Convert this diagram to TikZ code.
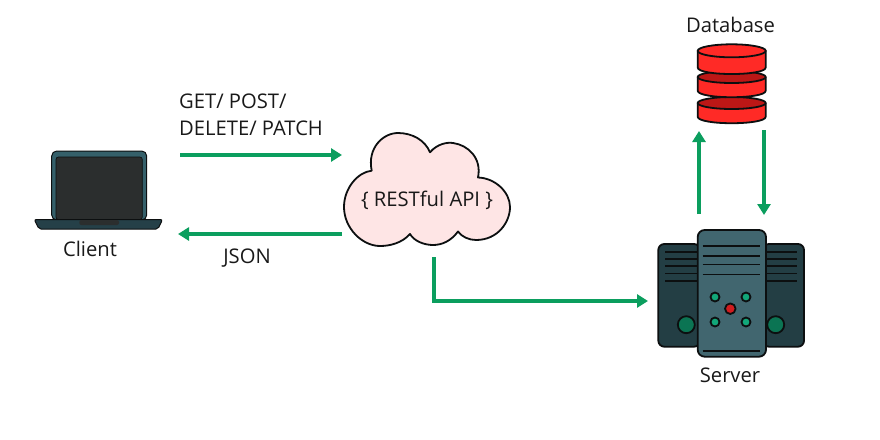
\documentclass[tikz,border=0pt]{standalone}
\usepackage{fontspec}
\setmainfont{Open Sans}
\usetikzlibrary{arrows.meta}
\definecolor{flow}{HTML}{0B9E5E}
\definecolor{ink}{HTML}{0C0F10}
\definecolor{lidteal}{HTML}{35606A}
\definecolor{basedark}{HTML}{254048}
\definecolor{screendark}{HTML}{2B2E2E}
\definecolor{towermid}{HTML}{41666F}
\definecolor{towerdark}{HTML}{233E44}
\definecolor{ledgreen}{HTML}{12A779}
\definecolor{knobgreen}{HTML}{0B7453}
\definecolor{ledred}{HTML}{D01C1F}
\definecolor{dbred}{HTML}{FF2A26}
\definecolor{dbdark}{HTML}{BC1716}
\definecolor{cloudfill}{HTML}{FEE5E5}
\tikzset{
  label text/.style={font=\fontsize{20.2}{24}\selectfont, text=black!90, inner sep=0pt},
  flowline/.style={line width=3.2pt, draw=flow, -{Triangle[length=11pt,width=13pt]}},
  outline/.style={draw=ink, line width=1.8pt, line join=round},
  groove/.style={draw=ink, line width=1.6pt},
}
\newcommand{\dblayer}[1]{%
  \filldraw[outline, fill=dbred] (697.7,#1) -- ++(0,13.7) .. controls +(0,8.7) and (765.7,#1+22.4) .. (765.7,#1+13.7) -- (765.7,#1) -- cycle;
  \filldraw[outline, fill=dbdark] (731.7,#1) ellipse [x radius=34, y radius=6];
}
\begin{document}
\begin{tikzpicture}[x=1pt,y=-1pt]
\useasboundingbox (0,0) rectangle (880,439);
\fill[white] (0,0) rectangle (880,439);

% Laptop
\filldraw[draw=ink, line width=1pt, fill=lidteal, rounded corners=5pt] (51.7,220) -- (51.7,151) -- (146.7,151) -- (146.7,220) -- cycle;
\filldraw[draw=ink, line width=0.7pt, fill=screendark, rounded corners=2.5pt] (56,219.5) -- (56,157) -- (142.3,157) -- (142.3,219.5) -- cycle;
\filldraw[draw=ink, line width=1pt, fill=basedark, rounded corners=2pt] (34.3,219.5) -- (162.5,219.5) -- (158,229) -- (39,229) -- cycle;
\filldraw[draw=none, fill=screendark, rounded corners=2pt] (79.3,220) -- (119,220) -- (119,225) -- (79.3,225) -- cycle;
\node[label text] (client) at (90,249) {Client};

% Cloud
\filldraw[outline, fill=cloudfill]
  (371.7,170.7)
  .. controls (367,148) and (383,133) .. (398,133)
  .. controls (412,133) and (425,140) .. (430,152.3)
  .. controls (437,144) and (447,142) .. (453,143)
  .. controls (468,145) and (482,158) .. (478,177.5)
  .. controls (495,178) and (510,192) .. (510,207)
  .. controls (510,222) and (498,240) .. (476,240)
  .. controls (469,240) and (462,237) .. (458,231.5)
  .. controls (451,241) and (442,245) .. (433,245)
  .. controls (424,245) and (414,241) .. (410,234)
  .. controls (402,243) and (390,246) .. (380,246)
  .. controls (362,246) and (344,228) .. (344,207)
  .. controls (344,188) and (358,172) .. (371.7,170.7)
  -- cycle;
\node[label text] (api) at (427,200) {\{ RESTful API \}};

% Server: side units behind the centre tower
\filldraw[outline, fill=towerdark, rounded corners=6pt] (700,244) -- (658.3,244) -- (658.3,346.7) -- (700,346.7) -- cycle;
\filldraw[outline, fill=towerdark, rounded corners=6pt] (763,244) -- (804,244) -- (804,346.7) -- (763,346.7) -- cycle;
\foreach \yy in {251.7,259,266,273.3,280.7} {
  \draw[groove] (665,\yy) -- (698,\yy);
  \draw[groove] (766,\yy) -- (797.3,\yy);
}
\filldraw[outline, fill=knobgreen] (686.3,324.7) circle (8.5);
\filldraw[outline, fill=knobgreen] (775.7,324.7) circle (8.5);
\filldraw[outline, fill=towermid, rounded corners=7pt] (697.7,230) rectangle (766,356.7);
\foreach \yy in {245.7,255.7,264.3,274.3,350.7} {
  \draw[groove] (702.7,\yy) -- (760,\yy);
}
\foreach \xx/\yy in {715/297,746/297,715/322,746/322} {
  \filldraw[outline, fill=ledgreen] (\xx,\yy) circle (4.5);
}
\filldraw[outline, fill=ledred] (730.3,308.7) circle (5.3);
\node[label text] (server) at (730,375) {Server};

% Database: three stacked discs, lowest first
\dblayer{103}
\dblayer{77}
\filldraw[outline, fill=dbred] (697.7,50.8) -- ++(0,16.7) .. controls +(0,8.7) and (765.7,76.2) .. (765.7,67.5) -- (765.7,50.8) -- cycle;
\filldraw[outline, fill=dbred] (731.7,50.8) ellipse [x radius=34, y radius=6.5];
\node[label text] (database) at (730.5,25) {Database};

% Request and response labels
\node[label text, anchor=west] (verbsa) at (179,101) {GET/ POST/};
\node[label text, anchor=west] (verbsb) at (179,128) {DELETE/ PATCH};
\node[label text] (json) at (247,258) {JSON};

% Connector end points
\coordinate (reqstart) at (180,155);
\coordinate (reqend) at (342,155);
\coordinate (respstart) at (342,234);
\coordinate (respend) at (178,234);
\coordinate (fwdstart) at (434,257);
\coordinate (fwdbend) at (434,301);
\coordinate (fwdend) at (648,301);
\coordinate (queryd) at (699,214);
\coordinate (queryu) at (699,131);
\coordinate (replyu) at (764,130);
\coordinate (replyd) at (764,215);

\draw[flowline] (reqstart) -- (reqend);
\draw[flowline] (respstart) -- (respend);
\draw[flowline] (fwdstart) -- (fwdbend) -- (fwdend);
\draw[flowline] (queryd) -- (queryu);
\draw[flowline] (replyu) -- (replyd);
\end{tikzpicture}
\end{document}
